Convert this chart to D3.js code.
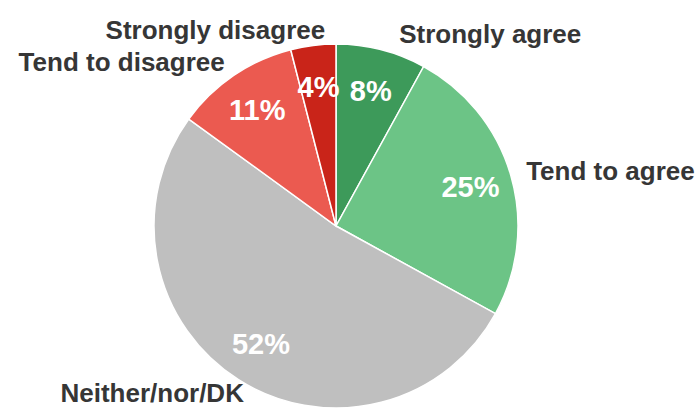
<!DOCTYPE html>
<html>
<head>
<meta charset="utf-8">
<script src="https://cdn.jsdelivr.net/npm/d3@7"></script>
<style>
  html, body { margin: 0; padding: 0; background: #fff; }
  svg { display: block; font-family: "Liberation Sans", Arial, sans-serif; }
</style>
</head>
<body>
<div id="root"></div>
<script>
const width = 700;
const height = 412;

// data, clockwise from 12 o'clock
const categories = ["Strongly agree", "Tend to agree", "Neither/nor/DK", "Tend to disagree", "Strongly disagree"];
const shares = [8, 25, 52, 11, 4];
const colours = ["#3d9a5a", "#6cc486", "#bfbfbf", "#eb5a50", "#c92419"];

const cx = 336, cy = 226, radius = 182;

const data = categories.map((c, i) => ({ category: c, value: shares[i] }));

const pie = d3.pie().sort(null).value(d => d.value);
const arc = d3.arc().innerRadius(0).outerRadius(radius);
const labelArc = d3.arc().innerRadius(140).outerRadius(140);

const colour = d3.scaleOrdinal().domain(categories).range(colours);

const svg = d3.select("#root")
	.append("svg")
		.attr("width", width)
		.attr("height", height);

const g = svg.append("g")
	.attr("transform", `translate(${cx}, ${cy})`);

const slices = pie(data);

g.selectAll(".slice")
	.data(slices).enter()
	.append("path")
		.attr("class", "slice")
		.attr("d", arc)
		.style("fill", d => colour(d.data.category))
		.style("stroke", "#fff")
		.style("stroke-width", 1.5);

// percentages inside
g.selectAll(".pct")
	.data(slices).enter()
	.append("text")
		.attr("class", "pct")
		.attr("transform", d => `translate(${labelArc.centroid(d)})`)
		.attr("text-anchor", "middle")
		.attr("dy", "0.35em")
		.style("font-size", "29px")
		.style("font-weight", "bold")
		.style("fill", "#fff")
		.text(d => d.data.value + "%");

// category names outside
const outerR = 198;
const midAngle = d => (d.startAngle + d.endAngle) / 2;

g.selectAll(".cat")
	.data(slices).enter()
	.append("text")
		.attr("class", "cat")
		.attr("x", d => outerR * Math.sin(midAngle(d)) + (Math.abs(Math.cos(midAngle(d))) > 0.84 ? 14 : 0))
		.attr("y", d => -outerR * Math.cos(midAngle(d)))
		.attr("dy", "0.35em")
		.attr("text-anchor", d => Math.sin(midAngle(d)) >= 0 ? "start" : "end")
		.style("font-size", "26px")
		.style("font-weight", "bold")
		.style("fill", "#363636")
		.text(d => d.data.category);
</script>
</body>
</html>
